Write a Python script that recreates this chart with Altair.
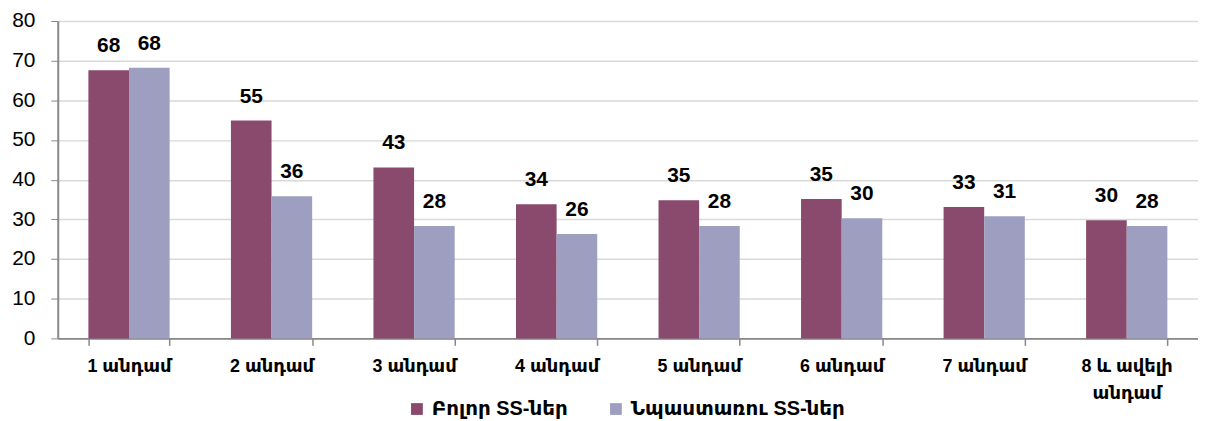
import altair as alt
import pandas as pd

categories = ["1 անդամ", "2 անդամ", "3 անդամ", "4 անդամ", "5 անդամ", "6 անդամ", "7 անդամ", "8 և ավելի անդամ"]
series_names = ["Բոլոր SS-ներ", "Նպաստառու SS-ներ"]
all_vals = [67.6, 54.9, 43.1, 33.8, 34.8, 35.1, 33.1, 29.8]
benef_vals = [68.2, 35.8, 28.3, 26.3, 28.3, 30.3, 30.8, 28.3]
colors = ["#894A6E", "#9E9FC0"]

rows = []
for c, a, b in zip(categories, all_vals, benef_vals):
    rows.append({"cat": c, "series": series_names[0], "value": a, "label": f"{round(a):d}"})
    rows.append({"cat": c, "series": series_names[1], "value": b, "label": f"{round(b):d}"})
df = pd.DataFrame(rows)

FONT = "Liberation Sans, Arial, DejaVu Sans"

x = alt.X("cat:N", sort=categories, title=None,
          scale=alt.Scale(paddingInner=0.43, paddingOuter=0.215),
          axis=alt.Axis(labelAngle=0, labelFontSize=18, labelFontWeight="bold", labelColor="#000000",
                        labelFont=FONT, labelPadding=12, tickSize=7, tickColor="#888888",
                        domainColor="#888888", domainWidth=2, tickWidth=1.5, tickBand="extent",
                        labelLineHeight=27, labelBaseline="top",
                        labelExpr="datum.label == '8 և ավելի անդամ' ? ['8 և ավելի', 'անդամ'] : datum.label"))
xo = alt.XOffset("series:N", sort=series_names, scale=alt.Scale(paddingInner=0, paddingOuter=0))
y = alt.Y("value:Q", title=None,
          scale=alt.Scale(domain=[0, 80]),
          axis=alt.Axis(values=list(range(0, 81, 10)), labelFontSize=21, labelColor="#000000",
                        labelFont=FONT, labelPadding=16, tickSize=7, tickColor="#888888",
                        domainColor="#888888", domainWidth=2, gridColor="#D9D9D9", gridWidth=1.5))

bars = alt.Chart(df).mark_bar().encode(
    x=x, xOffset=xo, y=y,
    color=alt.Color("series:N", sort=series_names,
                    scale=alt.Scale(domain=series_names, range=colors),
                    legend=alt.Legend(title=None, orient="none", direction="horizontal",
                                      legendX=351, legendY=380, symbolType="square", symbolSize=140,
                                      symbolStrokeWidth=0, labelFontSize=20, labelFontWeight="bold",
                                      labelFont=FONT, labelColor="#000000", columnPadding=38,
                                      labelOffset=5, labelLimit=0)),
)

labels = alt.Chart(df).mark_text(baseline="bottom", dy=-14, fontSize=21, fontWeight="bold",
                                 font=FONT, color="#000000").encode(
    x=x, xOffset=xo, y=y, text="label:N")

chart = (bars + labels).properties(
    width=1146, height=319,
    autosize=alt.AutoSizeParams(type="none"),
    padding={"left": 50, "top": 12, "right": 0, "bottom": 82},
).configure_view(stroke=None)

chart.save("out.html", embed_options={"renderer": "svg", "actions": False})
